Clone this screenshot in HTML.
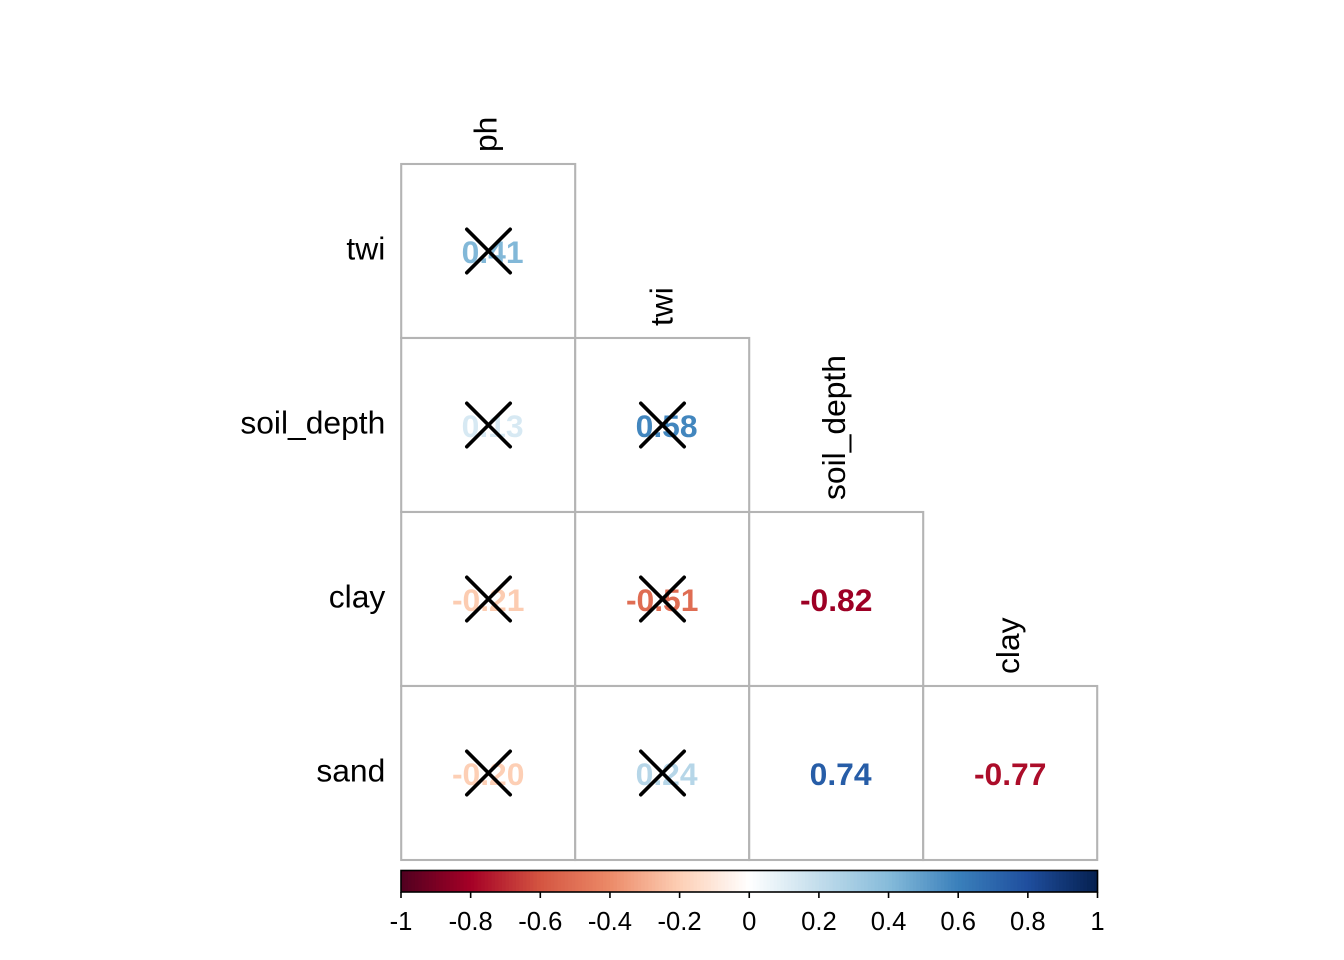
<!DOCTYPE html>
<html lang="en">
<head>
<meta charset="utf-8">
<title>Correlation matrix</title>
<style>
html,body{margin:0;padding:0;background:#fff;}
svg{display:block;}
text{font-family:"Liberation Sans",Arial,sans-serif;white-space:pre;}
</style>
</head>
<body>
<svg id="chart" width="1344" height="960" viewBox="0 0 1344 960" xmlns="http://www.w3.org/2000/svg"></svg>
<script>
var rowLabels = ['twi', 'soil_depth', 'clay', 'sand'];
var colLabels = ['ph', 'twi', 'soil_depth', 'clay'];
var corrRows = [
  [0.41],
  [0.13, 0.58],
  [-0.21, -0.51, -0.82],
  [-0.20, 0.24, 0.74, -0.77]
];
var crossedRows = [
  [true],
  [true, true],
  [true, true, false],
  [true, true, false, false]
];
var scaleTicks = [-1, -0.8, -0.6, -0.4, -0.2, 0, 0.2, 0.4, 0.6, 0.8, 1];
var scaleColors = ['#500020', '#A50026', '#D45541', '#EC8A68', '#FDCFB5', '#FFFFFF', '#C2DDEC', '#86BBDA', '#3A80BB', '#1F4E9E', '#05204F'];
var colLabelBaselineNudge = [8.5, 10.5, 9, 9];

var NS = 'http://www.w3.org/2000/svg';
var svg = document.getElementById('chart');
var gridLeft = 401.2, gridTop = 164, cellSize = 174;
var barLeft = 401, barRight = 1097.5, barTop = 870.5, barBottom = 892;

function cellX(i) { return gridLeft + i * cellSize; }
function cellY(i) { return gridTop + i * cellSize; }
function scaleX(v) { return barLeft + (v + 1) / 2 * (barRight - barLeft); }
function hexPart(h, p) { return parseInt(h.substr(1 + p * 2, 2), 16); }
function colorFor(v) {
  var t = (v + 1) / 2 * (scaleColors.length - 1);
  var i = Math.min(Math.floor(t), scaleColors.length - 2);
  var f = t - i, out = [];
  for (var p = 0; p < 3; p++) {
    out.push(Math.round(hexPart(scaleColors[i], p) * (1 - f) + hexPart(scaleColors[i + 1], p) * f));
  }
  return 'rgb(' + out.join(',') + ')';
}
function make(tag, attrs, parent) {
  var el = document.createElementNS(NS, tag);
  for (var k in attrs) el.setAttribute(k, attrs[k]);
  (parent || svg).appendChild(el);
  return el;
}
function fmt(v) {
  return (v < 0 ? '-' : ' ') + Math.abs(v).toFixed(2);
}

/* cells */
corrRows.forEach(function (row, r) {
  row.forEach(function (v, c) {
    var rect = make('rect', {x: cellX(c), y: cellY(r), width: cellSize, height: cellSize, fill: '#fff', stroke: '#b4b4b4', 'stroke-width': 2.1});
    
    
  });
});

/* values and crosses */
corrRows.forEach(function (row, r) {
  row.forEach(function (v, c) {
    var cx = cellX(c) + cellSize / 2 + 0.3, cy = cellY(r) + cellSize / 2;
    var t = make('text', {x: cx - 0.3, y: cy + 12, 'text-anchor': 'middle', 'font-size': 31.8, 'font-weight': 'bold', fill: colorFor(v)});
    t.textContent = fmt(v);
    
    
    if (crossedRows[r][c]) {
      var d = 21.7;
      var x = make('path', {d: 'M' + (cx - d) + ' ' + (cy - d) + 'L' + (cx + d) + ' ' + (cy + d) + 'M' + (cx - d) + ' ' + (cy + d) + 'L' + (cx + d) + ' ' + (cy - d), stroke: '#000', 'stroke-width': 3.6, 'stroke-linecap': 'round', fill: 'none'});
      
      
    }
  });
});

/* row labels */
rowLabels.forEach(function (label, r) {
  var t = make('text', {x: 385.3, y: cellY(r) + cellSize / 2 + 8.5, 'text-anchor': 'end', 'font-size': 31.8, fill: '#000'});
  t.textContent = label;
  
  
});

/* column labels */
colLabels.forEach(function (label, c) {
  var bx = cellX(c) + cellSize / 2 + colLabelBaselineNudge[c];
  var by = cellY(c) - 12;
  var t = make('text', {x: bx, y: by, transform: 'rotate(-90 ' + bx + ' ' + by + ')', 'text-anchor': 'start', 'font-size': 31.8, fill: '#000'});
  t.textContent = label;
  
  
});

/* colour bar */
var steps = 200;
for (var s = 0; s < steps; s++) {
  var lo = -1 + 2 * s / steps, hi = -1 + 2 * (s + 1) / steps;
  var seg = make('rect', {x: scaleX(lo), y: barTop, width: scaleX(hi) - scaleX(lo) + 0.6, height: barBottom - barTop, fill: colorFor((lo + hi) / 2)});
  
  
}
var frame = make('rect', {x: barLeft, y: barTop, width: barRight - barLeft, height: barBottom - barTop, fill: 'none', stroke: '#000', 'stroke-width': 1.6});



scaleTicks.forEach(function (v) {
  var x = scaleX(v);
  var tick = make('line', {x1: x, x2: x, y1: barBottom, y2: barBottom + 6, stroke: '#000', 'stroke-width': 1.6});
  
  
  var t = make('text', {x: x, y: 930, 'text-anchor': 'middle', 'font-size': 25.6, fill: '#000'});
  t.textContent = String(v);
  
  
});
</script>
</body>
</html>
